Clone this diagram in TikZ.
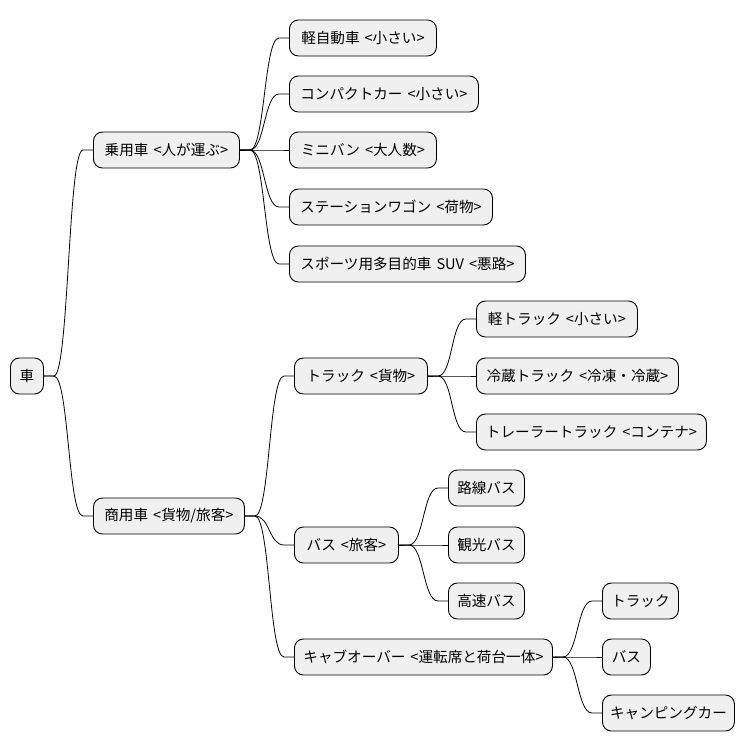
\documentclass[tikz,border=0pt]{standalone}
\usepackage{fontspec}
\setmainfont{Noto Sans CJK JP}
\newcommand\boxfont{\fontsize{14.6}{16}\selectfont\spaceskip=5pt\relax}
\begin{document}
\begin{tikzpicture}[x=1pt,y=-1pt,
  box/.style={draw=black, line width=0.9pt, fill=black!6, rounded corners=9pt,
    minimum height=36pt, inner xsep=0pt, inner ysep=0pt, anchor=west,
    font=\boxfont, text=black},
  link/.style={draw=black, line width=0.8pt}]
\useasboundingbox (0,0) rectangle (745,752);
% root
\node[box, minimum width=33pt] (root) at (10,376) {車};
% level 1
\node[box, minimum width=146pt] (jy) at (93,150) {乗用車 <人が運ぶ>};
\node[box, minimum width=151pt] (sy) at (93,516) {商用車 <貨物/旅客>};
% children of 乗用車
\node[box, minimum width=147pt] (kei) at (289,38) {軽自動車 <小さい>};
\node[box, minimum width=189pt] (comp) at (289,94) {コンパクトカー <小さい>};
\node[box, minimum width=147pt] (mini) at (289,150) {ミニバン <大人数>};
\node[box, minimum width=203pt] (sw) at (289,207) {ステーションワゴン <荷物>};
\node[box, minimum width=236pt] (suv) at (289,264) {スポーツ用多目的車 SUV <悪路>};
% children of 商用車
\node[box, minimum width=133pt] (truck) at (294,376) {トラック <貨物>};
\node[box, minimum width=104pt] (bus) at (294,545) {バス <旅客>};
\node[box, minimum width=258pt] (cab) at (294,657) {キャブオーバー <運転席と荷台一体>};
% trucks
\node[box, minimum width=161pt] (ktr) at (476,319) {軽トラック <小さい>};
\node[box, minimum width=202pt] (rtr) at (476,376) {冷蔵トラック <冷凍・冷蔵>};
\node[box, minimum width=230pt] (ttr) at (476,432) {トレーラートラック <コンテナ>};
% buses
\node[box, minimum width=76pt] (rb) at (448,488) {路線バス};
\node[box, minimum width=76pt] (kb) at (448,545) {観光バス};
\node[box, minimum width=76pt] (hb) at (448,601) {高速バス};
% cab over
\node[box, minimum width=76pt] (ctr) at (602,601) {トラック};
\node[box, minimum width=48pt] (cbu) at (602,657) {バス};
\node[box, minimum width=132pt] (ccp) at (602,713) {キャンピングカー};
% connectors
\newcommand\mmlink[2]{\draw[link] (#1.east) -- ([xshift=10pt]#1.east)
  .. controls ([xshift=25pt]#1.east) and ([xshift=-25pt]#2.west)
  .. ([xshift=-10pt]#2.west) -- (#2.west);}
\mmlink{root}{jy}
\mmlink{root}{sy}
\mmlink{jy}{kei}
\mmlink{jy}{comp}
\mmlink{jy}{mini}
\mmlink{jy}{sw}
\mmlink{jy}{suv}
\mmlink{sy}{truck}
\mmlink{sy}{bus}
\mmlink{sy}{cab}
\mmlink{truck}{ktr}
\mmlink{truck}{rtr}
\mmlink{truck}{ttr}
\mmlink{bus}{rb}
\mmlink{bus}{kb}
\mmlink{bus}{hb}
\mmlink{cab}{ctr}
\mmlink{cab}{cbu}
\mmlink{cab}{ccp}
\end{tikzpicture}
\end{document}
